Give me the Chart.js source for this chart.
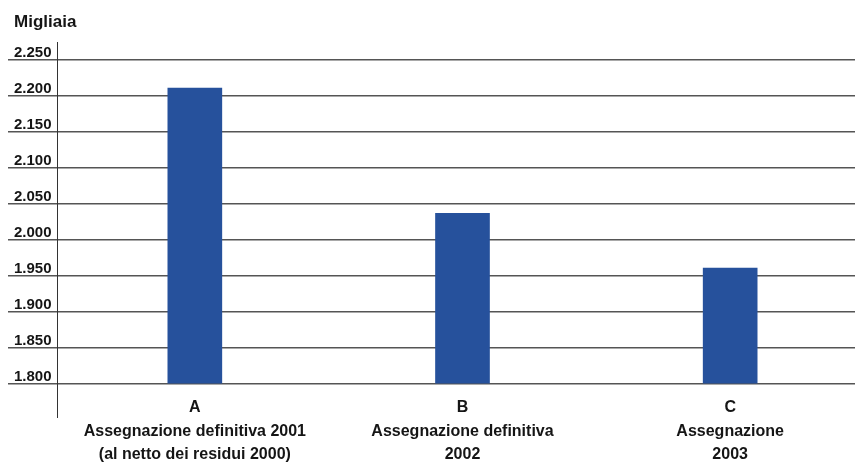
<!DOCTYPE html>
<html lang="it">
<head>
<meta charset="utf-8">
<title>Migliaia</title>
<script src="https://cdn.jsdelivr.net/npm/chart.js@4/dist/chart.umd.min.js"></script>
<style>
  html, body { margin: 0; padding: 0; background: #ffffff; overflow: hidden; }
  canvas { display: block; }
</style>
</head>
<body>
<!-- the plot runs a few pixels past the right edge of the page, the grid is cut there -->
<canvas id="chart" width="864" height="466"></canvas>
<script>
// Categories (multi-line labels under each bar)
const categories = [
  ['A', 'Assegnazione definitiva 2001', '(al netto dei residui 2000)'],
  ['B', 'Assegnazione definitiva', '2002'],
  ['C', 'Assegnazione', '2003']
];

// Values in thousands
const values = [2211, 2037, 1961];

// Y axis ticks and their printed labels
const yTickValues = [1800, 1850, 1900, 1950, 2000, 2050, 2100, 2150, 2200, 2250];
const yTickLabels = ['1.800', '1.850', '1.900', '1.950', '2.000', '2.050', '2.100', '2.150', '2.200', '2.250'];

const unitLabel = 'Migliaia';

const FONT = "'Liberation Sans', Arial, Helvetica, sans-serif";
const TEXT = '#151515';
const GRID = '#555555';
const BAR = '#26519c';

// Vertical axis rule, a little left of the plot and extending past it
const axisRule = {
  id: 'axisRule',
  afterDraw(chart) {
    const { ctx, chartArea } = chart;
    const x = Math.round(chartArea.left - 4) + 0.5;
    ctx.save();
    ctx.strokeStyle = '#333333';
    ctx.lineWidth = 1;
    ctx.beginPath();
    ctx.moveTo(x, chartArea.top - 18);
    ctx.lineTo(x, chartArea.bottom + 34);
    ctx.stroke();
    ctx.restore();
  }
};

new Chart(document.getElementById('chart'), {
  type: 'bar',
  data: {
    labels: categories,
    datasets: [{
      data: values,
      base: yTickValues[0],
      backgroundColor: BAR,
      borderWidth: 0,
      barThickness: 54
    }]
  },
  options: {
    responsive: false,
    animation: false,
    events: [],
    layout: { padding: { left: 14, right: 0, top: 0, bottom: 0 } },
    plugins: {
      legend: { display: false },
      tooltip: { enabled: false },
      title: {
        display: true,
        text: unitLabel,
        align: 'start',
        color: TEXT,
        font: { family: FONT, size: 17, weight: 'bold', lineHeight: 1.2 },
        padding: { top: 12.5, bottom: 27.1 }
      }
    },
    scales: {
      x: {
        grid: { display: false, drawTicks: false },
        border: { display: false },
        ticks: {
          color: TEXT,
          padding: 12,
          maxRotation: 0,
          autoSkip: false,
          font: { family: FONT, size: 16, weight: 'bold', lineHeight: 1.47 }
        },
        afterFit(scale) { scale.height = 82; }
      },
      y: {
        min: yTickValues[0],
        max: yTickValues[yTickValues.length - 1],
        afterBuildTicks(scale) {
          scale.ticks = yTickValues.map(v => ({ value: v }));
        },
        afterFit(scale) { scale.width = 47; },
        grid: {
          color: GRID,
          lineWidth: 1.5,
          drawTicks: true,
          tickLength: 53,
          tickColor: GRID,
          tickWidth: 1.5
        },
        border: { display: false },
        ticks: {
          color: TEXT,
          crossAlign: 'far',
          padding: 0,
          labelOffset: -7,
          font: { family: FONT, size: 15, weight: 'bold' },
          callback(value) {
            const i = yTickValues.indexOf(value);
            return i >= 0 ? yTickLabels[i] : '';
          }
        }
      }
    }
  },
  plugins: [axisRule]
});
</script>
</body>
</html>
